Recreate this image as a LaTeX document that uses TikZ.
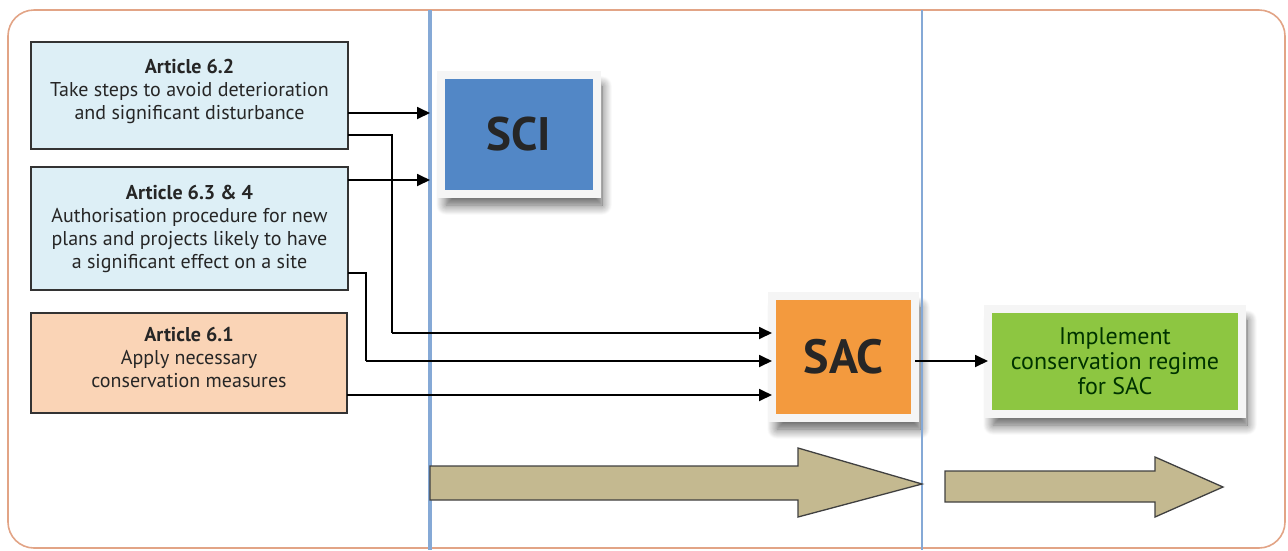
\documentclass[tikz,border=0pt]{standalone}
\usepackage{fontspec}
\setmainfont{PT Sans}
\usetikzlibrary{arrows.meta,shadows.blur}
\definecolor{framec}{HTML}{E2A486}
\definecolor{vline}{HTML}{85A9D6}
\definecolor{boxblue}{HTML}{DDEFF6}
\definecolor{boxorange}{HTML}{FAD4B6}
\definecolor{scic}{HTML}{5287C6}
\definecolor{sacc}{HTML}{F39A3E}
\definecolor{greenc}{HTML}{8DC641}
\definecolor{khaki}{HTML}{C4B990}
\definecolor{txt}{HTML}{262626}
\begin{document}
\begin{tikzpicture}[x=1pt,y=-1pt,
  artbox/.style={draw=black!80, line width=1.3pt, minimum width=317pt, align=center,
     font=\fontsize{20}{23}\selectfont, text=txt, inner sep=0pt, outer sep=0pt, anchor=north west},
  bigbox/.style={draw=white!96!black, line width=8pt, outer sep=0pt, inner sep=0pt,
     blur shadow={shadow xshift=5pt, shadow yshift=-11pt, shadow blur radius=10pt,
       shadow blur steps=14, shadow opacity=65}},
  arr/.style={line width=1.8pt, -{Triangle[length=13pt,width=12pt]}},
  conn/.style={line width=1.8pt},
  bigarrow/.style={fill=khaki, draw=black!75, line width=1.3pt, line join=miter},
  vl/.style={draw=vline, line width=3.5pt}
]
\useasboundingbox (0,0) rectangle (1288,550);
\draw[framec, line width=1.6pt, rounded corners=26pt] (8,10) rectangle (1285,548);

% left boxes
\node[artbox, fill=boxblue, minimum height=107pt] (a62) at (31,42)
  {\textbf{Article 6.2}\\Take steps to avoid deterioration\\and significant disturbance\\[-11pt]};
\node[artbox, fill=boxblue, minimum height=123pt] (a634) at (31,167)
  {\textbf{Article 6.3 \& 4}\\Authorisation procedure for new\\plans and projects likely to have\\a significant effect on a site};
\node[artbox, fill=boxorange, minimum height=100pt, minimum width=316pt] (a61) at (31,313)
  {\textbf{Article 6.1}\\Apply necessary\\conservation measures\\[-12pt]};

% main boxes
\node[bigbox, fill=scic, minimum width=156pt, minimum height=119pt,
  font=\fontsize{47}{47}\selectfont\bfseries, text=black!85] (sci) at (519,134.5) {SCI};
\node[bigbox, fill=sacc, minimum width=143pt, minimum height=122pt,
  font=\fontsize{48}{48}\selectfont\bfseries, text=black!85] (sac) at (843.5,357) {SAC};
\node[bigbox, fill=greenc, minimum width=254pt, minimum height=105pt, align=center,
  font=\fontsize{24}{25}\selectfont, text=black!80!green] (impl) at (1115,361.5)
  {Implement\\conservation regime\\for SAC};

% vertical lines
\draw[vl] (430,10) coordinate (v1top) -- (430,550) coordinate (v1bot);
\draw[vl, line width=2.6pt] (922,10) coordinate (v2top) -- (922,550) coordinate (v2bot);

% connectors
\draw[arr] (a62.east |- 0,113) -- (v1top |- 0,113);
\draw[arr] (a634.east |- 0,180) -- (v1top |- 0,180);
\draw[conn] (a62.east |- 0,135) -| (392,333);
\draw[arr] (392,333) -- (sac.west |- 0,333);
\draw[conn] (a634.east |- 0,273) -| (366,361);
\draw[arr] (366,361) -- (sac.west |- 0,361);
\draw[arr] (a61.east |- 0,395) -- (sac.west |- 0,395);
\draw[arr] (sac.east |- 0,361) -- (impl.west |- 0,361);

% big arrows
\draw[bigarrow] (430,466) -- (798,466) -- (798,448) -- (922,484) -- (798,517) -- (798,500) -- (430,500) -- cycle;
\draw[bigarrow] (945,471) -- (1155,471) -- (1155,457) -- (1223,487) -- (1155,517) -- (1155,502) -- (945,502) -- cycle;
\end{tikzpicture}
\end{document}
